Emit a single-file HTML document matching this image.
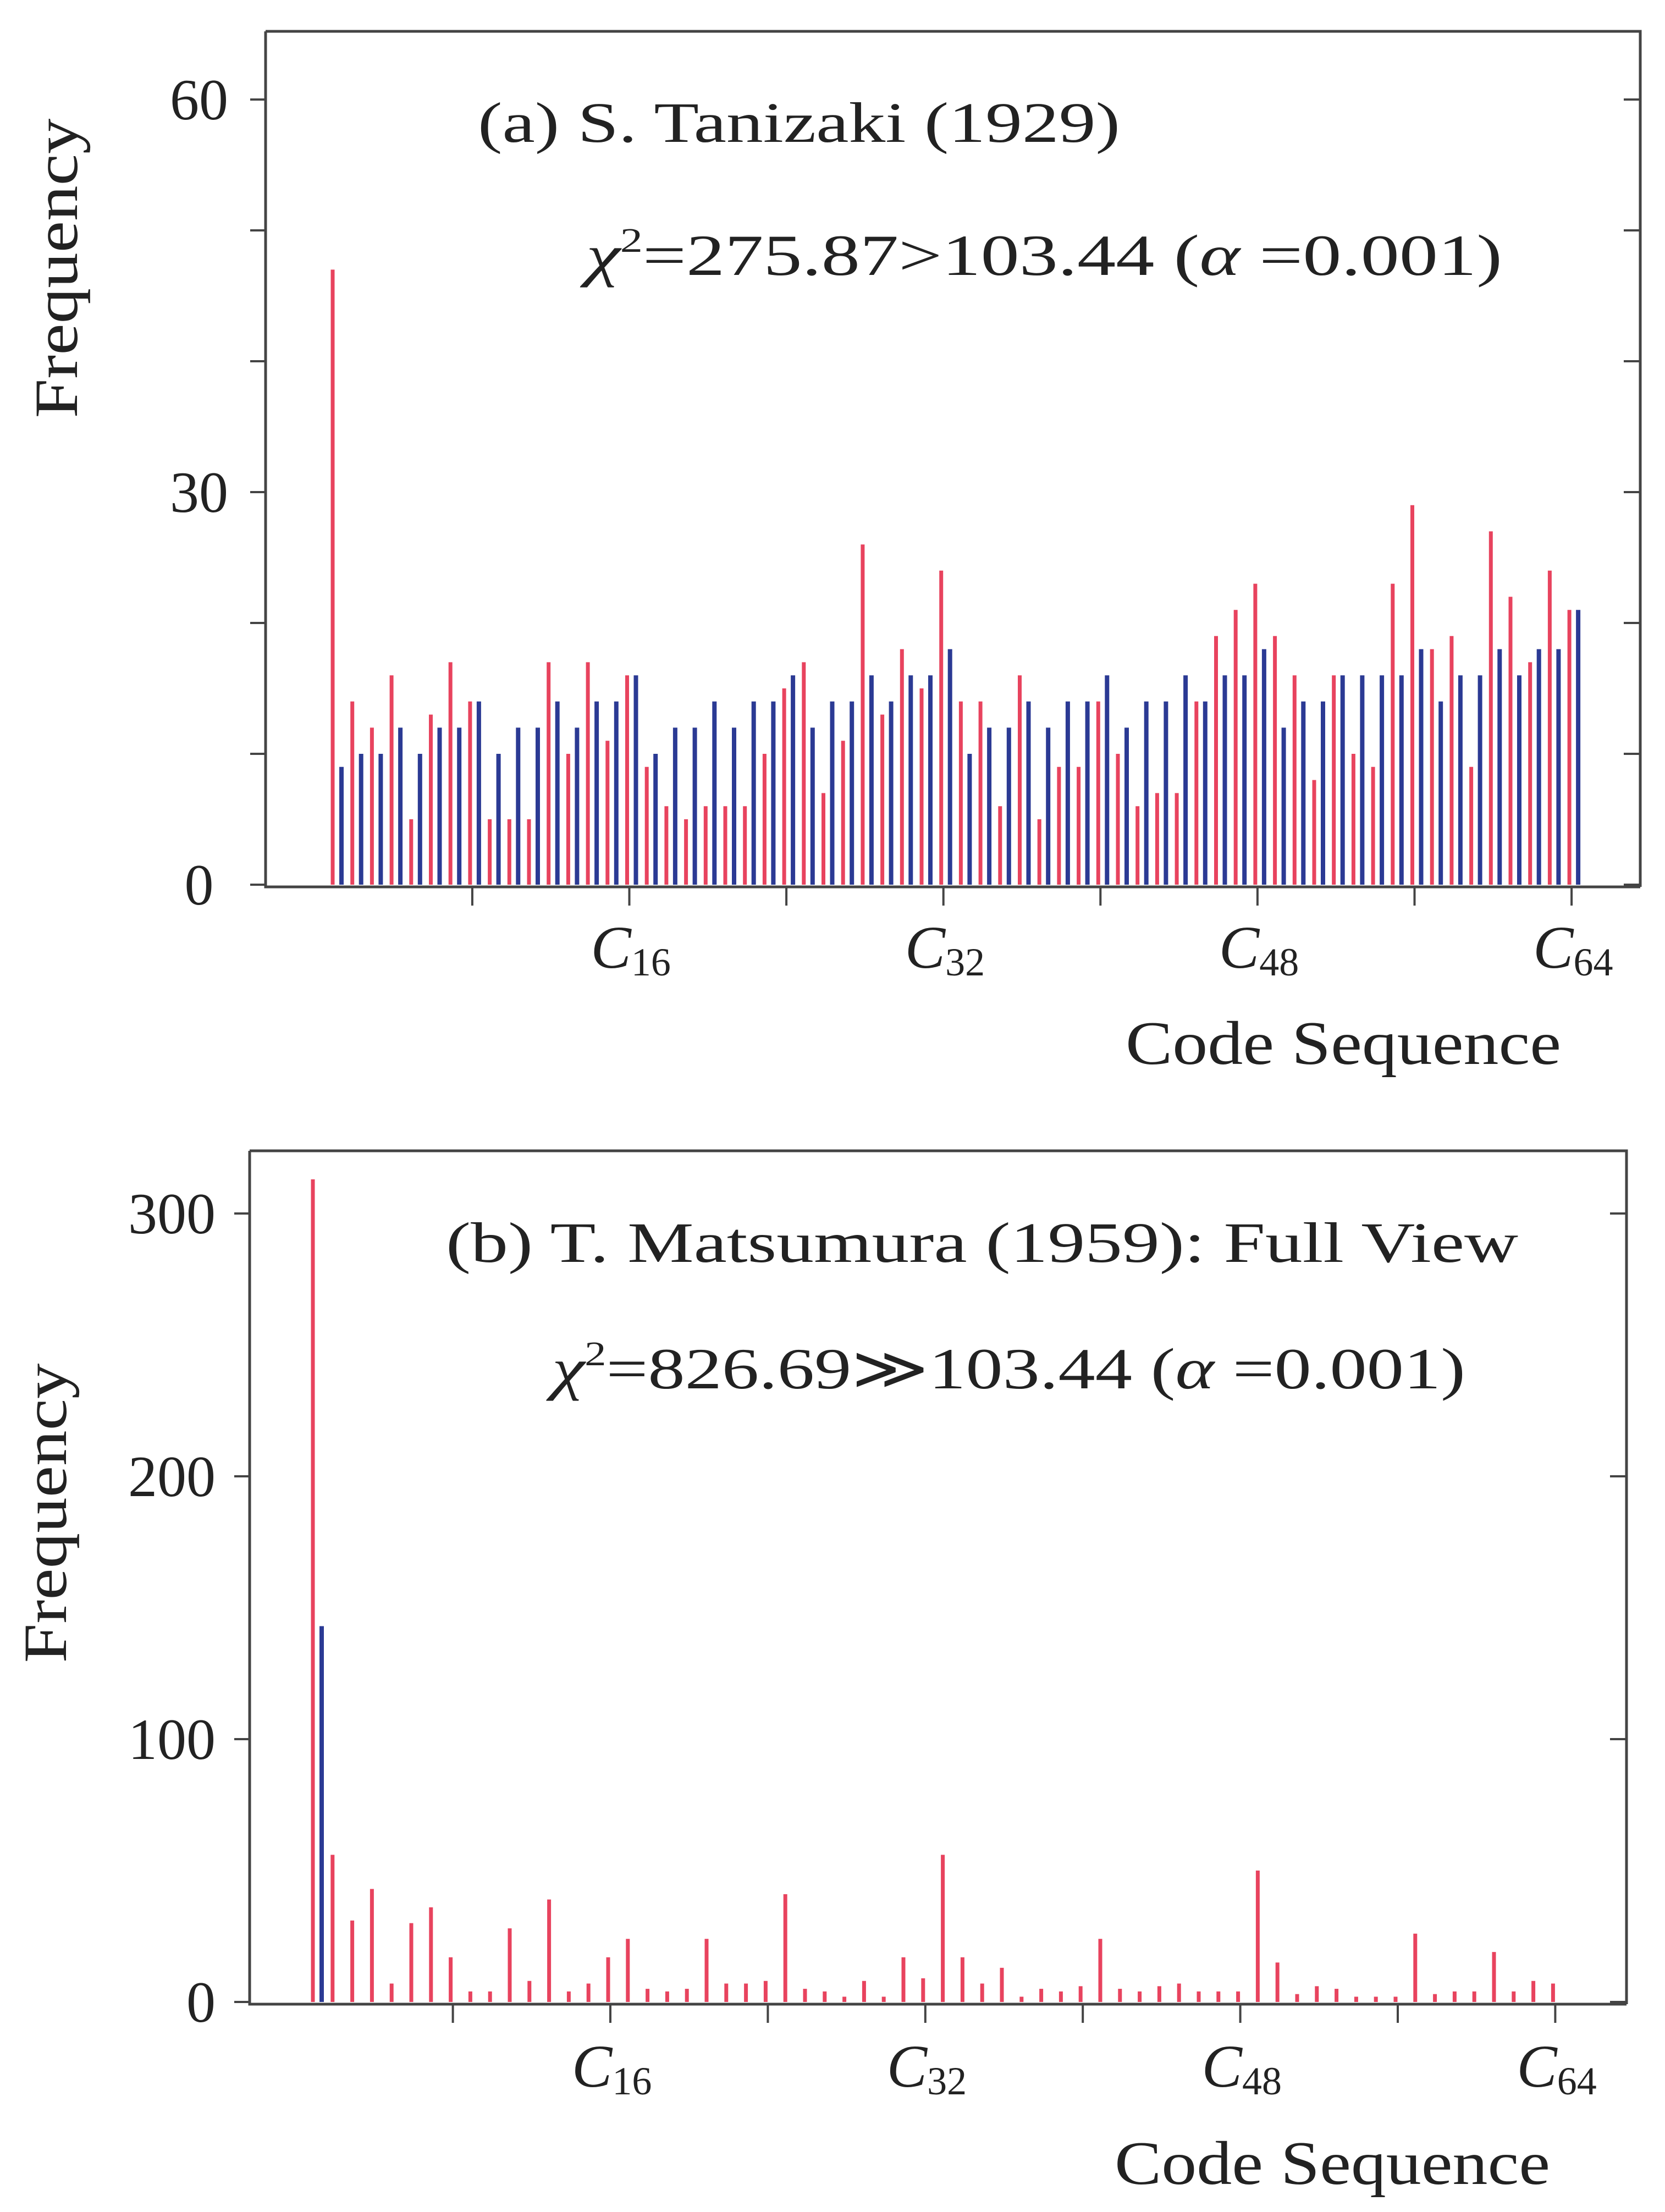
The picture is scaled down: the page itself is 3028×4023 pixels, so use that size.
<!DOCTYPE html>
<html><head><meta charset="utf-8"><style>
html,body{margin:0;padding:0;background:#fff}
svg{display:block}
text{font-family:"Liberation Serif",serif;fill:#222}
</style></head><body>
<svg id="fig" width="3028" height="4023" viewBox="0 0 3028 4023" xmlns="http://www.w3.org/2000/svg">
<g id="chartA"></g>
<g id="chartB"></g>
</svg>
<script>
const codes = Array.from({length:64},(_,i)=>i+1);
const aRed  = [47,14,12,16,5,13,17,14,5,5,5,17,10,17,11,16,9,6,5,6,6,6,10,15,17,7,11,26,13,18,15,24,14,14,6,16,5,9,9,14,10,6,7,7,14,19,21,23,19,16,8,16,10,9,23,29,18,19,9,27,22,17,24,21];
const aBlue = [9,10,10,12,10,12,12,14,10,12,12,14,12,14,14,16,10,12,12,14,12,14,14,16,12,14,14,16,14,16,16,18,10,12,12,14,12,14,14,16,12,14,14,16,14,16,16,18,12,14,14,16,16,16,16,18,14,16,16,18,16,18,18,21];
const bRed  = [313,56,31,43,7,30,36,17,4,4,28,8,39,4,7,17,24,5,4,5,24,7,7,8,41,5,4,2,8,2,17,9,56,17,7,13,2,5,4,6,24,5,4,6,7,4,4,4,50,15,3,6,5,2,2,2,26,3,4,4,19,4,8,7];
const bBlue = [143,0,0,0,0,0,0,0,0,0,0,0,0,0,0,0,0,0,0,0,0,0,0,0,0,0,0,0,0,0,0,0,0,0,0,0,0,0,0,0,0,0,0,0,0,0,0,0,0,0,0,0,0,0,0,0,0,0,0,0,0,0,0,0];
const aYTicks = [0,10,20,30,40,50,60];
const aYLabels = [0,30,60];
const bYTicks = [0,100,200,300];
const bYLabels = [0,100,200,300];
const xTickCodes = [8,16,24,32,40,48,56,64];
const xLabelCodes = [16,32,48,64];

const NS="http://www.w3.org/2000/svg";
const RED="#e8435e", BLUE="#2b3a94", AX="#444";
function mk(parent,tag,attrs){const e=document.createElementNS(NS,tag);for(const k in attrs)e.setAttribute(k,attrs[k]);parent.appendChild(e);return e;}

function drawChart(g,cfg){
  const {L,R,T,B,c1,cw,zeroY,pxPer,red,blue,yTicks,yLabels,title,titleX,titleY,titleLen,chiX,chiY,chiLen,chiText,freqX,freqY,csX,csY,labY,ylabX,ylabAnchor} = cfg;
  const xs = c=>c1+(c-1)*cw;
  const ys = v=>zeroY - v*pxPer;
  const fr = mk(g,'path',{d:`M${L},${T} H${R} V${B} M${L},${T} V${B} H${R}`,fill:'none',stroke:AX,'stroke-width':5});
  
  
  yTicks.forEach(v=>{
    const t=mk(g,'line',{x1:L-28,x2:L,y1:ys(v),y2:ys(v),stroke:AX,'stroke-width':4});
    
    
    const t2=mk(g,'line',{x1:R-30,x2:R,y1:ys(v),y2:ys(v),stroke:AX,'stroke-width':4});
    
    
  });
  yLabels.forEach(v=>{
    const t=mk(g,'text',{x:ylabX,y:ys(v)+36,'text-anchor':ylabAnchor,'font-size':106});
    t.textContent=v;
    
    
  });
  xTickCodes.forEach(c=>{
    const t=mk(g,'line',{x1:xs(c),x2:xs(c),y1:B,y2:B+34,stroke:AX,'stroke-width':4});
    
    
  });
  xLabelCodes.forEach(c=>{
    const t=mk(g,'text',{x:xs(c)-70,y:labY,'font-size':110,'font-style':'italic'});
    t.textContent='C';
    const s=mk(t,'tspan',{'font-size':72,'font-style':'normal',dy:14});
    s.textContent=String(c);
    
    
  });
  codes.forEach((c,i)=>{
    if(red[i]>0){
      const b=mk(g,'line',{x1:xs(c)-4,x2:xs(c)-4,y1:zeroY,y2:ys(red[i]),stroke:RED,'stroke-width':7});
      
      
    }
    if(blue[i]>0){
      const b=mk(g,'line',{x1:xs(c)+12,x2:xs(c)+12,y1:zeroY,y2:ys(blue[i]),stroke:BLUE,'stroke-width':8});
      
      
    }
  });
  const tt=mk(g,'text',{x:titleX,y:titleY,'font-size':104,textLength:titleLen,lengthAdjust:'spacingAndGlyphs'});
  tt.textContent=title;
  
  
  const ch=mk(g,'text',{x:chiX,y:chiY,'font-size':106,textLength:chiLen,lengthAdjust:'spacingAndGlyphs'});
  const c1s=mk(ch,'tspan',{'font-style':'italic'}); c1s.textContent='χ';
  const c2s=mk(ch,'tspan',{'font-size':62,dy:-42}); c2s.textContent='2';
  const c3s=mk(ch,'tspan',{dy:42}); c3s.textContent=chiText[0];
  const c4s=mk(ch,'tspan',{'font-style':'italic'}); c4s.textContent='α';
  const c5s=mk(ch,'tspan',{}); c5s.textContent=chiText[1];
  
  
  const fq=mk(g,'text',{x:0,y:0,'font-size':112,'text-anchor':'middle',transform:`translate(${freqX},${freqY}) rotate(-90)`,textLength:545,lengthAdjust:'spacingAndGlyphs'});
  fq.textContent='Frequency';
  
  
  const cs=mk(g,'text',{x:csX,y:csY,'font-size':112,textLength:792,lengthAdjust:'spacingAndGlyphs'});
  cs.textContent='Code Sequence';
  
  
}

drawChart(document.getElementById('chartA'),{
  L:483,R:2983,T:57,B:1613,c1:609,cw:35.7,zeroY:1609,pxPer:23.8,red:aRed,blue:aBlue,
  yTicks:aYTicks,yLabels:aYLabels,title:'(a) S. Tanizaki (1929)',titleX:869,titleY:258,titleLen:1168,
  chiX:1066,chiY:500,chiLen:1666,chiText:['=275.87>103.44 (',' =0.001)'],
  freqX:140,freqY:488,ylabX:362,ylabAnchor:'middle',csX:2047,csY:1935,labY:1760
});
drawChart(document.getElementById('chartB'),{
  L:454,R:2958,T:2093,B:3645,c1:573,cw:35.8,zeroY:3641,pxPer:4.78,red:bRed,blue:bBlue,
  yTicks:bYTicks,yLabels:bYLabels,title:'(b) T. Matsumura (1959): Full View',titleX:811,titleY:2295,titleLen:1950,
  chiX:1004,chiY:2525,chiLen:1661,chiText:['=826.69≫103.44 (',' =0.001)'],
  freqX:120,freqY:2752,ylabX:392,ylabAnchor:'end',csX:2027,csY:3972,labY:3795
});
</script>
</body></html>
